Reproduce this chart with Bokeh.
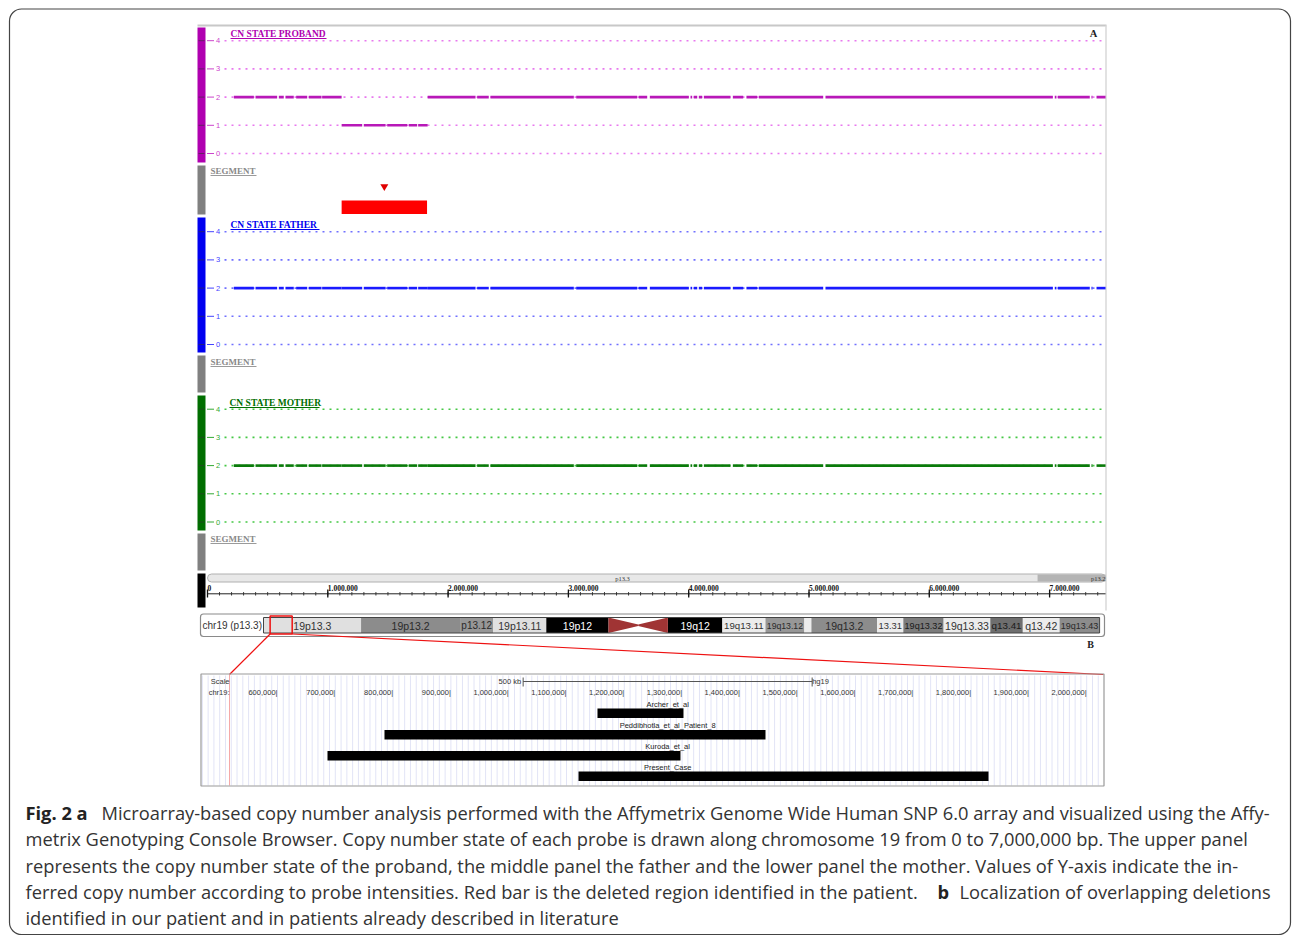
import numpy as np
from bokeh.plotting import figure
from bokeh.models import Range1d
from bokeh.core.properties import value
from bokeh.embed import file_html
from bokeh.resources import INLINE

# ---------------- data ----------------
cn_levels = [0, 1, 2, 3, 4]
cn_labels = ["0", "1", "2", "3", "4"]

# probe-covered runs along chr19 (Mb) and the copy-number state called in each run
run_start = [0.219, 0.399, 0.593, 0.648, 0.737, 0.842, 0.953,
             1.115, 1.299, 1.494, 1.673, 1.751,
             1.830, 2.242, 2.352, 3.065, 3.585, 3.677, 4.015, 4.042, 4.084,
             4.126, 4.367, 4.480, 4.583, 5.137, 7.043, 7.068, 7.348, 7.390]
run_end = [0.385, 0.579, 0.634, 0.717, 0.829, 0.948, 1.115,
           1.286, 1.480, 1.660, 1.743, 1.830,
           2.228, 2.338, 3.045, 3.572, 3.655, 4.001, 4.029, 4.071, 4.112,
           4.347, 4.453, 4.569, 5.118, 7.027, 7.057, 7.334, 7.357, 7.465]
proband_cn = [2, 2, 2, 2, 2, 2, 2,
              1, 1, 1, 1, 1,
              2, 2, 2, 2, 2, 2, 2, 2, 2, 2, 2, 2, 2, 2, 2, 2, 2, 2]
father_cn = [2, 2, 2, 2, 2, 2, 2,
             2, 2, 2, 2, 2,
             2, 2, 2, 2, 2, 2, 2, 2, 2, 2, 2, 2, 2, 2, 2, 2, 2, 2]
mother_cn = [2, 2, 2, 2, 2, 2, 2,
             2, 2, 2, 2, 2,
             2, 2, 2, 2, 2, 2, 2, 2, 2, 2, 2, 2, 2, 2, 2, 2, 2, 2]

segment_start = [1.115]   # Mb, deleted region in proband
segment_end = [1.825]

ruler_major = [0, 1, 2, 3, 4, 5, 6, 7]  # Mb
ruler_labels = ["0", "1.000.000", "2.000.000", "3.000.000", "4.000.000",
                "5.000.000", "6.000.000", "7.000.000"]
view_end_mb = 7.465

top_band_names = ["p13.3", "p13.2"]
top_band_start = [0.0, 6.9]
top_band_end = [6.9, 12.6]

ideo_names = ["19p13.3", "19p13.2", "p13.12", "19p13.11", "19p12",
              "19q12", "19q13.11", "19q13.12", "", "19q13.2", "13.31",
              "19q13.32", "19q13.33", "q13.41", "q13.42", "19q13.43"]
ideo_start = [0.0, 6.9, 13.9, 16.25, 20.0, 28.6, 32.45, 35.5, 38.25, 38.75,
              43.4, 45.25, 48.1, 51.4, 53.7, 56.3]
ideo_end = [6.9, 13.9, 16.25, 20.0, 24.4, 32.45, 35.5, 38.25, 38.75, 43.4,
            45.25, 48.1, 51.4, 53.7, 56.3, 59.13]
ideo_stain = ["gneg", "gpos50", "gpos40", "gneg", "gvar", "gvar", "gneg0",
              "gpos40", "gneg0", "gpos50", "gneg0", "gpos60", "gneg0",
              "gpos70", "gneg0", "gpos50"]
cen_start, cen_mid, cen_end = 24.4, 26.5, 28.6

view_start_bp = 468500
view_end_bp = 2029000

del_names = ["Archer_et_al", "Peddibhotla_et_al_Patient_8", "Kuroda_et_al", "Present_Case"]
del_start = [1153600, 785100, 686500, 1120800]
del_end = [1302400, 1444300, 1297200, 1830100]

ucsc_ticks = [600000, 700000, 800000, 900000, 1000000, 1100000, 1200000, 1300000,
              1400000, 1500000, 1600000, 1700000, 1800000, 1900000, 2000000]
scale_bar_start = 1025000
scale_bar_len = 500000
label_center_bp = 1275000

caption_lines = [
    [("Fig. 2 a", True, 25), ("Microarray-based copy number analysis performed with the Affymetrix Genome Wide Human SNP 6.0 array and visualized using the Affy-", False, 101)],
    [("metrix Genotyping Console Browser. Copy number state of each probe is drawn along chromosome 19 from 0 to 7,000,000 bp. The upper panel", False, 25)],
    [("represents the copy number state of the proband, the middle panel the father and the lower panel the mother. Values of Y-axis indicate the in-", False, 25)],
    [("ferred copy number according to probe intensities. Red bar is the deleted region identified in the patient.", False, 25), ("b", True, 937), ("Localization of overlapping deletions", False, 959)],
    [("identified in our patient and in patients already described in literature", False, 25)],
]

# ---------------- figure ----------------
W, H = 1292, 938
p = figure(width=W, height=H, x_range=Range1d(0, W), y_range=Range1d(H, 0),
           output_backend="svg", toolbar_location=None, x_axis_type=None, y_axis_type=None,
           min_border=0, outline_line_color=None, title=None,
           background_fill_color="white", border_fill_color="white")

PX_PER_MB, X_MB0 = 120.3, 207.0
p.extra_x_ranges["mb"] = Range1d((0 - X_MB0) / PX_PER_MB, (W - X_MB0) / PX_PER_MB)
PX_PER_BP_U, X_U0 = 0.000578, 277.0  # ucsc panel: 600,000 at x=277
p.extra_x_ranges["ucsc"] = Range1d(600000 + (0 - X_U0) / PX_PER_BP_U, 600000 + (W - X_U0) / PX_PER_BP_U)
PX_PER_MB_C, X_C0 = 14.14, 263.0
p.extra_x_ranges["chr"] = Range1d((0 - X_C0) / PX_PER_MB_C, (W - X_C0) / PX_PER_MB_C)

PX_PER_CN = 28.2
tracks = [
    dict(name="proband", y0=153.0, bar=(27, 162), title="CN STATE  PROBAND", ty=33, tx=230, ul=96,
         cn=proband_cn, bar_col="#b000b0", line_col="#b818b8", dot_col="#e878ee", tick_col="#cc44cc"),
    dict(name="father", y0=344.0, bar=(217, 352), title="CN STATE  FATHER", ty=224, tx=230, ul=89,
         cn=father_cn, bar_col="#0000f0", line_col="#1a1aff", dot_col="#7070ff", tick_col="#4444ff"),
    dict(name="mother", y0=521.5, bar=(395, 530), title="CN STATE MOTHER", ty=402, tx=229, ul=90,
         cn=mother_cn, bar_col="#006e00", line_col="#0a7a0a", dot_col="#44c844", tick_col="#33aa33"),
]
for t in tracks:
    p.extra_y_ranges[t["name"]] = Range1d((t["y0"] - H) / PX_PER_CN, (t["y0"] - 0) / PX_PER_CN)

serif = value("Liberation Serif")
sans = value("Liberation Sans")

# panel frame
p.segment(x0=[197], x1=[1106], y0=[25], y1=[25], line_color="#c8c8c8", line_width=2)
p.segment(x0=[1105.5], x1=[1105.5], y0=[25], y1=[610], line_color="#d8d8d8", line_width=1.5)

# gray segment bars and black ruler bar
p.quad(left=[197, 197, 197], right=[205, 205, 205], top=[165, 355, 533], bottom=[214, 392, 570],
       fill_color="#808080", line_color=None)
p.quad(left=[197], right=[205], top=[573], bottom=[607], fill_color="black", line_color=None)
p.text(x=[210, 210, 210], y=[170, 361, 538], text=["SEGMENT"] * 3, text_font=serif,
       text_font_style="bold", text_font_size="9px", text_color="#8a8a8a",
       text_baseline="middle", text_align="left")
p.segment(x0=[210, 210, 210], x1=[256, 256, 256], y0=[175, 366, 543], y1=[175, 366, 543],
          line_color="#9a9a9a", line_width=1)

for t in tracks:
    rn = t["name"]
    p.quad(left=[197], right=[205], top=[t["bar"][0]], bottom=[t["bar"][1]],
           fill_color=t["bar_col"], line_color=None)
    # dotted level lines
    p.segment(x0=[224] * 5, x1=[1105] * 5, y0=cn_levels, y1=cn_levels, y_range_name=rn,
              line_color=t["dot_col"], line_width=1.6, line_dash="2 5", line_cap="butt")
    # level ticks
    p.segment(x0=[198] * 5, x1=[204] * 5, y0=cn_levels, y1=cn_levels, y_range_name=rn,
              line_color="#333333", line_width=1, line_alpha=0.6)
    p.segment(x0=[206.5] * 5, x1=[213.5] * 5, y0=cn_levels, y1=cn_levels, y_range_name=rn,
              line_color=t["tick_col"], line_width=1)
    p.text(x=[217.5] * 5, y=cn_levels, text=cn_labels, y_range_name=rn, text_font=sans,
           text_font_size="7.5px", text_color=t["tick_col"], text_align="center", text_baseline="middle")
    # copy-number calls
    p.segment(x0=run_start, x1=run_end, y0=t["cn"], y1=t["cn"], x_range_name="mb", y_range_name=rn,
              line_color=t["line_col"], line_width=2.6, line_cap="butt")
    # title
    p.text(x=[t["tx"]], y=[t["ty"]], text=[t["title"]], text_font=serif, text_font_style="bold",
           text_font_size="9.5px", text_color=t["bar_col"], text_align="left", text_baseline="middle")
    p.segment(x0=[t["tx"]], x1=[t["tx"] + t["ul"]], y0=[t["ty"] + 5], y1=[t["ty"] + 5],
              line_color=t["bar_col"], line_width=1)

# segment call (deleted region)
p.quad(left=segment_start, right=segment_end, top=[200], bottom=[213.5], x_range_name="mb",
       fill_color="#ff0000", line_color=None)
p.scatter(x=[(segment_start[0] + segment_end[0]) / 2], y=[186], marker="inverted_triangle", size=8,
          x_range_name="mb", fill_color="#e00000", line_color=None)

p.text(x=[1093], y=[33], text=["A"], text_font=serif, text_font_style="bold", text_font_size="10.5px",
       text_color="#222222", text_align="center", text_baseline="middle")

# ruler track
p.quad(left=[top_band_start[0]], right=[view_end_mb], top=[573.5], bottom=[581.5], x_range_name="mb",
       fill_color="#e8e8e8", line_color="#b0b0b0", border_radius=4)
p.quad(left=[top_band_start[1]], right=[view_end_mb], top=[574], bottom=[581], x_range_name="mb",
       fill_color="#b4b4b4", line_color=None)
p.text(x=[(top_band_start[0] + top_band_end[0]) / 2], y=[578], text=[top_band_names[0]], x_range_name="mb",
       text_font=serif, text_font_size="6.5px", text_color="#333333", text_align="center", text_baseline="middle")
p.text(x=[view_end_mb], y=[578], text=[top_band_names[1]], x_range_name="mb",
       text_font=serif, text_font_size="6.5px", text_color="#333333", text_align="right", text_baseline="middle")
p.segment(x0=[0], x1=[view_end_mb], y0=[593.3], y1=[593.3], x_range_name="mb", line_color="#222222", line_width=1)
minor = np.arange(0.0, view_end_mb, 0.1)
p.segment(x0=minor, x1=minor, y0=[591.6] * len(minor), y1=[595] * len(minor), x_range_name="mb",
          line_color="#333333", line_width=1)
p.segment(x0=ruler_major, x1=ruler_major, y0=[589] * 8, y1=[597] * 8, x_range_name="mb",
          line_color="#111111", line_width=1.3)
p.text(x=ruler_major, y=[587.5] * 8, text=ruler_labels, x_range_name="mb", text_font=serif,
       text_font_style="bold", text_font_size="7.5px", text_color="#111111",
       text_align="left", text_baseline="middle")

# ideogram
p.quad(left=[200], right=[1104], top=[613.5], bottom=[636], fill_color="white", line_color="#8a8a8a",
       line_width=1.2, border_radius=3)
p.text(x=[202], y=[625], text=["chr19 (p13.3)"], text_font=sans, text_font_size="10px",
       text_color="#333333", text_align="left", text_baseline="middle")
stain_fill = {"gneg": "#e0e0e0", "gneg0": "#ececec", "gpos40": "#979797", "gpos50": "#8c8c8c",
              "gpos60": "#7c7c7c", "gpos70": "#6e6e6e", "gvar": "#000000"}
stain_text = {"gneg": "#333333", "gneg0": "#333333", "gpos40": "#2a2a2a", "gpos50": "#2a2a2a",
              "gpos60": "#1a1a1a", "gpos70": "#1a1a1a", "gvar": "#ffffff"}
p.quad(left=ideo_start, right=ideo_end, top=[617] * len(ideo_start), bottom=[632.5] * len(ideo_start),
       x_range_name="chr", fill_color=[stain_fill[s] for s in ideo_stain], line_color=None)
p.patches(xs=[[cen_start, cen_mid, cen_mid, cen_start], [cen_end, cen_mid, cen_mid, cen_end]],
          ys=[[617, 624, 625.5, 632.5], [617, 624, 625.5, 632.5]], x_range_name="chr",
          fill_color="#a03434", line_color=None)
p.quad(left=[ideo_start[0]], right=[ideo_end[-1]], top=[617], bottom=[632.5], x_range_name="chr",
       fill_color=None, line_color="#444444", line_width=1)
# label size: fit the band width
band_px = [(b - a) * PX_PER_MB_C for a, b in zip(ideo_start, ideo_end)]
label_sizes = [f"{min(10.5, 0.9 * w / max(1, 0.5 * len(n))):.1f}px" for w, n in zip(band_px, ideo_names)]
p.text(x=[(a + b) / 2 for a, b in zip(ideo_start, ideo_end)], y=[625] * len(ideo_start), text=ideo_names,
       x_range_name="chr", text_font=sans, text_font_size=label_sizes,
       text_color=[stain_text[s] for s in ideo_stain], text_align="center", text_baseline="middle")
p.quad(left=[view_start_bp / 1e6], right=[view_end_bp / 1e6], top=[615.5], bottom=[633.5], x_range_name="chr",
       fill_color=None, line_color="#ee1111", line_width=1.5)
bx0 = X_C0 + view_start_bp / 1e6 * PX_PER_MB_C
bx1 = X_C0 + view_end_bp / 1e6 * PX_PER_MB_C
p.segment(x0=[bx0, bx1], x1=[229, 1103], y0=[633.5, 633.5], y1=[674, 674], line_color="#ee1111", line_width=1.2)
p.text(x=[1090], y=[644], text=["B"], text_font=serif, text_font_style="bold", text_font_size="10px",
       text_color="#222222", text_align="center", text_baseline="middle")

# UCSC browser panel
grid = np.arange(470000, 2030000, 10000)
p.segment(x0=grid, x1=grid, y0=[675] * len(grid), y1=[785] * len(grid), x_range_name="ucsc",
          line_color="#e2e4f6", line_width=1)
p.segment(x0=[229], x1=[229], y0=[674], y1=[785], line_color="#f5a8a8", line_width=1)
p.quad(left=[200.5], right=[1103.5], top=[673.5], bottom=[785.5], fill_color=None, line_color="#9a9a9a",
       line_width=1.2)
p.text(x=[229, 229], y=[681, 692], text=["Scale", "chr19:"], text_font=sans, text_font_size="7.5px",
       text_color="#333333", text_align="right", text_baseline="middle")
p.text(x=ucsc_ticks, y=[692] * len(ucsc_ticks), text=[f"{v:,}|" for v in ucsc_ticks], x_range_name="ucsc",
       text_font=sans, text_font_size="7.5px", text_color="#333333", text_align="right", text_baseline="middle")
sb0, sb1 = scale_bar_start, scale_bar_start + scale_bar_len
p.segment(x0=[sb0, sb0, sb1], x1=[sb1, sb0, sb1], y0=[681, 677, 677], y1=[681, 686, 686], x_range_name="ucsc",
          line_color="#555555", line_width=1)
p.text(x=[sb0, sb1], y=[681, 681], text=["500 kb ", " hg19"], x_range_name="ucsc", text_font=sans,
       text_font_size="7.5px", text_color="#333333", text_align=["right", "left"], text_baseline="middle")
row_top = [708, 729.5, 750.5, 771]
p.quad(left=del_start, right=del_end, top=row_top, bottom=[r + 9.5 for r in row_top], x_range_name="ucsc",
       fill_color="black", line_color=None)
p.text(x=[label_center_bp] * 4, y=[r - 4.2 for r in row_top], text=del_names, x_range_name="ucsc",
       text_font=sans, text_font_size="7.5px", text_color="#222222", text_align="center", text_baseline="middle")

# caption
cap_y = [812, 838, 864.5, 891, 917]
cap_font = value("Open Sans")
for yy, parts in zip(cap_y, caption_lines):
    for txt, bold, xx in parts:
        p.text(x=[xx], y=[yy], text=[txt], text_font=cap_font, text_font_size="18.3px",
               text_font_style="bold" if bold else "normal",
               text_color="#222222" if bold else "#333333", text_align="left", text_baseline="middle")

# outer rounded border
p.quad(left=[9], right=[1290], top=[8.5], bottom=[934], fill_color=None, line_color="#444444",
       line_width=1.2, border_radius=12)

open("out.html", "w").write(file_html(p, INLINE))
